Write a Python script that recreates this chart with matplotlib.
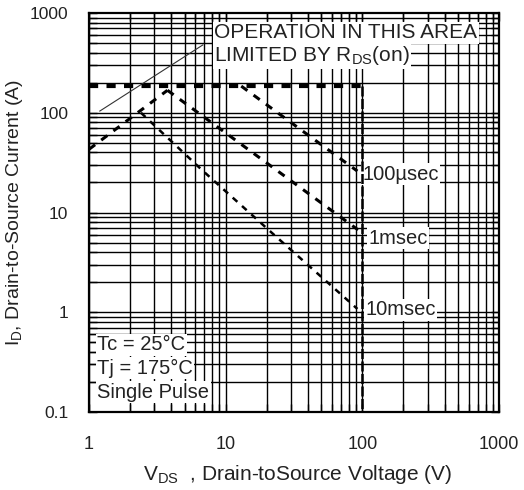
import matplotlib
matplotlib.use('Agg')
import matplotlib.pyplot as plt
from matplotlib.ticker import LogLocator, NullFormatter
import numpy as np

plt.rcParams['font.family'] = ['Liberation Sans', 'DejaVu Sans']
plt.rcParams['mathtext.fontset'] = 'custom'
plt.rcParams['mathtext.rm'] = 'Liberation Sans'
plt.rcParams['mathtext.it'] = 'Liberation Sans'

# values (V in volts, I in amps)
rds_v = [1.2, 6.8]            # thin R_DS(on) line
rds_i = [104, 478]
limit_v = 100                 # vertical limit (V_DSS)
limit_i = 185                 # horizontal limit (package current)
rise_v = [1.0, 3.75]          # rising dashed segment
rise_i = [43, 168]
us100_v = [13, 92]
us100_i = [185, 26]
ms1_v = [3.75, 93]
ms1_i = [168, 6.7]
ms10_v = [2.4, 6.7, 24, 92]
ms10_i = [100, 26.7, 5.55, 1.08]

x_ticks = [1, 10, 100, 1000]
x_tick_labels = ['1', '10', '100', '1000']
y_ticks = [0.1, 1, 10, 100, 1000]
y_tick_labels = ['0.1', '1', '10', '100', '1000']

TXT = '#222222'

fig = plt.figure(figsize=(5.24, 4.90), dpi=100)
ax = fig.add_axes([89 / 524, 78 / 490, 410 / 524, 399 / 490])
ax.set_xscale('log')
ax.set_yscale('log')
ax.set_xlim(1, 1000)
ax.set_ylim(0.1, 1000)

# log grid drawn by hand so the text boxes can sit over it but under the ticks
for d in range(3):
    for k in range(1, 10):
        ax.axvline(k * 10 ** d, color='black', lw=1.0, zorder=1)
for d in range(-1, 3):
    for k in range(1, 10):
        ax.axhline(k * 10 ** d, color='black', lw=1.0, zorder=1)

# curves
ax.plot(rds_v, rds_i, color='#333333', lw=0.8, zorder=2.2)
ax.plot([1, limit_v], [limit_i, limit_i], color='black', lw=3.0,
        linestyle=(0, (2.2, 2.0)), zorder=2.2, solid_capstyle='butt')
ax.plot([limit_v, limit_v], [limit_i, 0.1], color='black', lw=1.8,
        linestyle=(0, (4, 1)), zorder=2.2)
dash = (0, (2.5, 2.5))
ax.plot(rise_v, rise_i, color='black', lw=2.2, linestyle=dash, zorder=2.2)
ax.plot(us100_v, us100_i, color='black', lw=2.2, linestyle=dash, zorder=2.2)
ax.plot(ms1_v, ms1_i, color='black', lw=2.2, linestyle=dash, zorder=2.2)
ax.plot(ms10_v, ms10_i, color='black', lw=1.8, linestyle=dash, zorder=2.2)

box = dict(facecolor='white', edgecolor='none', pad=1.0)
tkw = dict(transform=ax.transAxes, fontsize=14.5, color=TXT, ha='left',
           va='center', bbox=box, zorder=2)
ax.text(0.305, 0.950, 'OPERATION IN THIS AREA', **dict(tkw, fontsize=15))
ax.text(0.305, 0.893, r'LIMITED BY R$_{\mathregular{DS}}$(on)',
        **dict(tkw, fontsize=15))
ax.text(0.667, 0.596, '100µsec', **tkw)
ax.text(0.681, 0.436, '1msec', **tkw)
ax.text(0.674, 0.256, '10msec', **tkw)
ax.text(0.020, 0.168, 'Tc = 25°C', **tkw)
ax.text(0.020, 0.110, 'Tj = 175°C', **tkw)
ax.text(0.020, 0.050, 'Single Pulse', **tkw)

for s in ax.spines.values():
    s.set_linewidth(1.6)
    s.set_zorder(3)

ax.xaxis.set_minor_locator(LogLocator(base=10, subs=np.arange(2, 10)))
ax.yaxis.set_minor_locator(LogLocator(base=10, subs=np.arange(2, 10)))
ax.xaxis.set_minor_formatter(NullFormatter())
ax.yaxis.set_minor_formatter(NullFormatter())
ax.set_xticks(x_ticks, x_tick_labels)
ax.set_yticks(y_ticks, y_tick_labels)
ax.tick_params(which='both', direction='in', top=True, right=True,
               length=6, width=1.0, colors='black')
ax.tick_params(axis='x', labelsize=13, pad=17, labelcolor=TXT)
ax.tick_params(axis='y', labelsize=12.5, pad=15, labelcolor=TXT)

ax.set_xlabel(r'V$_{\mathregular{DS}}$  , Drain-toSource Voltage (V)',
              fontsize=15, color=TXT)
ax.xaxis.set_label_coords(0.51, -0.128)
ax.set_ylabel(r'I$_{\mathregular{D}}$, Drain-to-Source Current (A)',
              fontsize=14, color=TXT)
ax.yaxis.set_label_coords(-0.156, 0.5)

fig.savefig('out.png', dpi=100)
